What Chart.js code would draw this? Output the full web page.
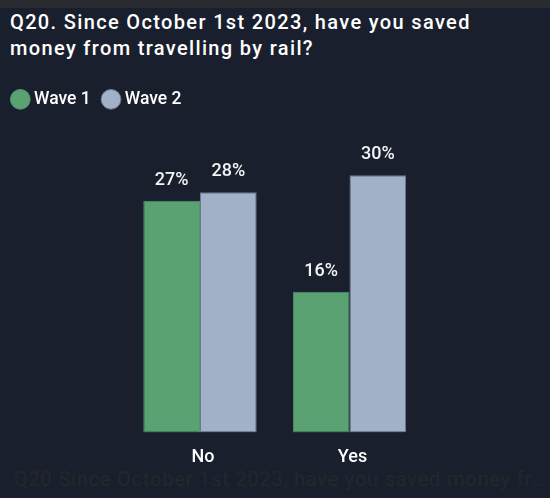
<!DOCTYPE html>
<html>
<head>
<meta charset="utf-8">
<script src="https://cdn.jsdelivr.net/npm/chart.js@4.4.0/dist/chart.umd.min.js"></script>
<style>
  html, body { margin: 0; padding: 0; background: #1a1f2e; width: 550px; height: 498px; overflow: hidden; }
  #strip { position: absolute; left: 0; top: 0; width: 550px; height: 8px; background: #292b31; }
  #title { position: absolute; left: 10px; top: 9px; font-family: Roboto, sans-serif; font-weight: 500; font-size: 20px; letter-spacing: 1.35px; line-height: 26px; color: #ffffff; white-space: nowrap; }
  #footer { position: absolute; left: 14px; top: 466px; width: 532px; font-family: Roboto, sans-serif; font-weight: 400; font-size: 20px; letter-spacing: 0.8px; line-height: 26px; color: #25272b; white-space: nowrap; overflow: hidden; text-overflow: ellipsis; }
  #wrap { position: absolute; left: 0; top: 0; width: 550px; height: 498px; }
</style>
</head>
<body>
<div id="strip"></div>
<div id="title">Q20. Since October 1st 2023, have you saved<br>money from travelling by rail?</div>
<div id="footer">Q20 Since October 1st 2023, have you saved money from travelling by rail?</div>
<div id="wrap"><canvas id="c" width="550" height="498"></canvas></div>
<script>
const categories = ["No", "Yes"];
const seriesNames = ["Wave 1", "Wave 2"];
const wave1 = [27, 16.4];
const wave2 = [28, 30];

const valueLabels = {
  id: 'valueLabels',
  afterDatasetsDraw(chart) {
    const ctx = chart.ctx;
    ctx.save();
    ctx.font = '500 18px Roboto, sans-serif';
    ctx.fillStyle = '#f4f4f4';
    ctx.textAlign = 'center';
    ctx.textBaseline = 'alphabetic';
    chart.data.datasets.forEach((ds, di) => {
      const meta = chart.getDatasetMeta(di);
      meta.data.forEach((bar, i) => {
        ctx.fillText(Math.round(ds.data[i]) + '%', bar.x, bar.y - 16);
      });
    });
    ctx.restore();
  }
};

new Chart(document.getElementById('c'), {
  type: 'bar',
  data: {
    labels: categories,
    datasets: [
      { label: seriesNames[0], data: wave1, backgroundColor: '#5aa272', borderColor: '#52966a', borderWidth: 1, borderSkipped: false },
      { label: seriesNames[1], data: wave2, backgroundColor: '#a1b1c7', borderColor: '#6c788c', borderWidth: 1, borderSkipped: false }
    ]
  },
  options: {
    responsive: false,
    animation: false,
    devicePixelRatio: 1,
    layout: { padding: { top: 75.3, right: 125.75, bottom: 16, left: 0 } },
    datasets: { bar: { categoryPercentage: 0.7585, barPercentage: 1.0 } },
    plugins: {
      legend: {
        display: true,
        position: 'top',
        align: 'start',
        labels: {
          color: '#ffffff',
          font: { family: 'Roboto, sans-serif', size: 17.5, weight: '500' },
          usePointStyle: true,
          pointStyle: 'circle',
          boxWidth: 10,
          boxHeight: 14,
          padding: 15.3
        }
      },
      title: { display: false },
      tooltip: { enabled: false }
    },
    scales: {
      x: {
        grid: { display: false, drawTicks: false },
        border: { display: false },
        ticks: {
          color: '#ffffff',
          font: { family: 'Roboto, sans-serif', size: 18, weight: '500' },
          padding: 14,
          labelOffset: 3
        }
      },
      y: {
        display: true,
        min: 0,
        max: 36.65,
        grid: { display: false, drawTicks: false },
        border: { display: false },
        ticks: { display: false },
        afterFit(scale) { scale.width = 125.25; }
      }
    }
  },
  plugins: [valueLabels]
});
</script>
</body>
</html>
